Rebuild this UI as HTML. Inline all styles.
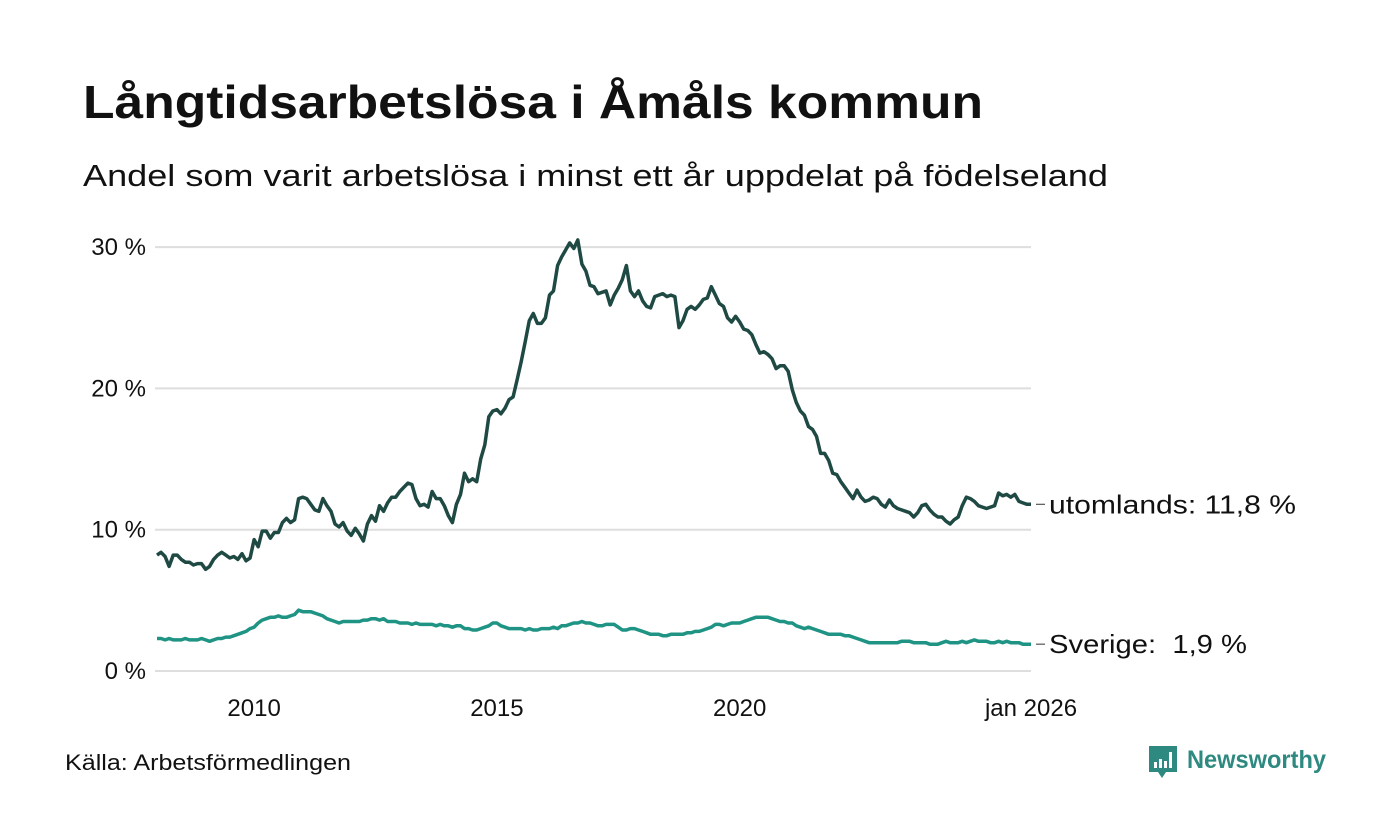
<!DOCTYPE html>
<html><head><meta charset="utf-8"><style>body{margin:0;background:#fff}svg{display:block}text{font-family:"Liberation Sans",sans-serif}</style></head>
<body>
<svg id="chart" width="1400" height="840" viewBox="0 0 1400 840">
<text x="83" y="118" font-size="46" font-weight="bold" fill="#111" textLength="900" lengthAdjust="spacingAndGlyphs">Långtidsarbetslösa i Åmåls kommun</text>
<text x="83" y="186" font-size="31" fill="#111" textLength="1025" lengthAdjust="spacingAndGlyphs">Andel som varit arbetslösa i minst ett år uppdelat på födelseland</text>
<g id="grid"></g>
<g id="yticks"></g>
<g id="xticks"></g>
<g id="lines"></g>
<text x="65" y="770" font-size="22" fill="#111" textLength="286" lengthAdjust="spacingAndGlyphs">Källa: Arbetsförmedlingen</text>
<g>
<path d="M1149 746h28v26h-11l-4 6-4-6h-9z" fill="#2e8a80"/>
<rect x="1154" y="762" width="3" height="6" fill="#fff"/><rect x="1159" y="759" width="3" height="9" fill="#fff"/><rect x="1164" y="761" width="3" height="7" fill="#fff"/><rect x="1169" y="752" width="3" height="16" fill="#fff"/>
<text x="1187" y="768" font-size="25" font-weight="bold" fill="#2e8a80" textLength="139" lengthAdjust="spacingAndGlyphs">Newsworthy</text>
</g>
</svg>
<script>
const yTicks=[0,10,20,30];
const yTickLabels=["0 %","10 %","20 %","30 %"];
const xTicks=[2010,2015,2020,2026];
const xTickLabels=["2010","2015","2020","jan 2026"];
const startYear=2008;
const utomlands=[8.2,8.4,8.1,7.4,8.2,8.2,7.9,7.7,7.7,7.5,7.6,7.6,
7.2,7.4,7.9,8.2,8.4,8.2,8.0,8.1,7.9,8.3,7.8,8.0,
9.3,8.8,9.9,9.9,9.4,9.8,9.8,10.5,10.8,10.5,10.7,12.2,
12.3,12.2,11.8,11.4,11.3,12.2,11.7,11.3,10.4,10.2,10.5,9.9,
9.6,10.1,9.7,9.2,10.4,11.0,10.6,11.7,11.3,11.9,12.3,12.3,
12.7,13.0,13.3,13.2,12.2,11.7,11.8,11.6,12.7,12.2,12.2,11.7,
11.0,10.5,11.8,12.5,14.0,13.4,13.6,13.4,15.0,16.0,18.0,18.4,
18.5,18.2,18.6,19.2,19.4,20.6,21.9,23.3,24.8,25.3,24.6,24.6,
25.0,26.6,26.9,28.7,29.3,29.8,30.3,29.9,30.5,28.8,28.3,27.3,
27.2,26.7,26.8,26.9,25.9,26.6,27.1,27.7,28.7,26.9,26.5,26.9,
26.2,25.8,25.7,26.5,26.6,26.7,26.5,26.6,26.5,24.3,24.8,25.6,
25.8,25.6,25.9,26.3,26.4,27.2,26.6,26.0,25.8,25.0,24.7,25.1,
24.7,24.2,24.1,23.8,23.1,22.5,22.6,22.4,22.1,21.4,21.6,21.6,
21.2,19.9,19.0,18.4,18.1,17.3,17.1,16.6,15.4,15.4,14.9,14.0,
13.9,13.4,13.0,12.6,12.2,12.8,12.3,12.0,12.1,12.3,12.2,11.8,
11.6,12.1,11.7,11.5,11.4,11.3,11.2,10.9,11.2,11.7,11.8,11.4,
11.1,10.9,10.9,10.6,10.4,10.7,10.9,11.7,12.3,12.2,12.0,11.7,
11.6,11.5,11.6,11.7,12.6,12.4,12.5,12.3,12.5,12.0,11.9,11.8,
11.8];
const sverige=[2.3,2.3,2.2,2.3,2.2,2.2,2.2,2.3,2.2,2.2,2.2,2.3,
2.2,2.1,2.2,2.3,2.3,2.4,2.4,2.5,2.6,2.7,2.8,3.0,
3.1,3.4,3.6,3.7,3.8,3.8,3.9,3.8,3.8,3.9,4.0,4.3,
4.2,4.2,4.2,4.1,4.0,3.9,3.7,3.6,3.5,3.4,3.5,3.5,
3.5,3.5,3.5,3.6,3.6,3.7,3.7,3.6,3.7,3.5,3.5,3.5,
3.4,3.4,3.4,3.3,3.4,3.3,3.3,3.3,3.3,3.2,3.3,3.2,
3.2,3.1,3.2,3.2,3.0,3.0,2.9,2.9,3.0,3.1,3.2,3.4,
3.4,3.2,3.1,3.0,3.0,3.0,3.0,2.9,3.0,2.9,2.9,3.0,
3.0,3.0,3.1,3.0,3.2,3.2,3.3,3.4,3.4,3.5,3.4,3.4,
3.3,3.2,3.2,3.3,3.3,3.3,3.1,2.9,2.9,3.0,3.0,2.9,
2.8,2.7,2.6,2.6,2.6,2.5,2.5,2.6,2.6,2.6,2.6,2.7,
2.7,2.8,2.8,2.9,3.0,3.1,3.3,3.3,3.2,3.3,3.4,3.4,
3.4,3.5,3.6,3.7,3.8,3.8,3.8,3.8,3.7,3.6,3.5,3.5,
3.4,3.4,3.2,3.1,3.0,3.1,3.0,2.9,2.8,2.7,2.6,2.6,
2.6,2.6,2.5,2.5,2.4,2.3,2.2,2.1,2.0,2.0,2.0,2.0,
2.0,2.0,2.0,2.0,2.1,2.1,2.1,2.0,2.0,2.0,2.0,1.9,
1.9,1.9,2.0,2.1,2.0,2.0,2.0,2.1,2.0,2.1,2.2,2.1,
2.1,2.1,2.0,2.0,2.1,2.0,2.1,2.0,2.0,2.0,1.9,1.9,
1.9];
const seriesNames=["utomlands","Sverige"];
const NS="http://www.w3.org/2000/svg";
const X0=157,X1=1031,Y0=671,PXPER=14.13;
const N=utomlands.length;
function xIdx(i){return X0+(X1-X0)*i/(N-1);}
function xYear(y){return X0+(X1-X0)*(y-startYear)*12/(N-1);}
function yVal(v){return Y0-v*PXPER;}
function mk(tag,attrs,parent){const e=document.createElementNS(NS,tag);for(const k in attrs)e.setAttribute(k,attrs[k]);parent.appendChild(e);return e;}
const grid=document.getElementById('grid'),yt=document.getElementById('yticks'),xt=document.getElementById('xticks'),lines=document.getElementById('lines');
yTicks.forEach((t,i)=>{
 const l=mk('line',{x1:155,x2:X1,y1:yVal(t),y2:yVal(t),stroke:'#dedede','stroke-width':2},grid);
 
 
 const tx=mk('text',{x:146,y:yVal(t)+8,'font-size':24,'text-anchor':'end',fill:'#111'},yt);
 tx.textContent=yTickLabels[i];
 
 
});
xTicks.forEach((t,i)=>{
 const tx=mk('text',{x:xYear(t),y:716,'font-size':24,'text-anchor':'middle',fill:'#111'},xt);
 tx.textContent=xTickLabels[i];
 
 
});
function draw(arr,color,name,label,tl){
 const d=arr.map((v,i)=>(i?'L':'M')+xIdx(i).toFixed(1)+' '+yVal(v).toFixed(1)).join('');
 const p=mk('path',{d:d,fill:'none',stroke:color,'stroke-width':3.5,'stroke-linejoin':'round'},lines);
 
 
 const last=arr[arr.length-1],ly=yVal(last);
 const c=mk('line',{x1:1036,x2:1045,y1:ly,y2:ly,stroke:'#333','stroke-width':1},lines);
 
 
 const t=mk('text',{x:1049,y:ly+9,'font-size':26,fill:'#111',textLength:tl,lengthAdjust:'spacingAndGlyphs'},lines);
 t.textContent=label+':'+(label==='Sverige'?'\u00a0\u00a0':'\u00a0')+last.toFixed(1).replace('.',',')+'\u00a0%';
 
 
}
draw(sverige,'#1f9384','sverige',seriesNames[1],198);
draw(utomlands,'#1f4a44','utomlands',seriesNames[0],247);
</script>
</body></html>
